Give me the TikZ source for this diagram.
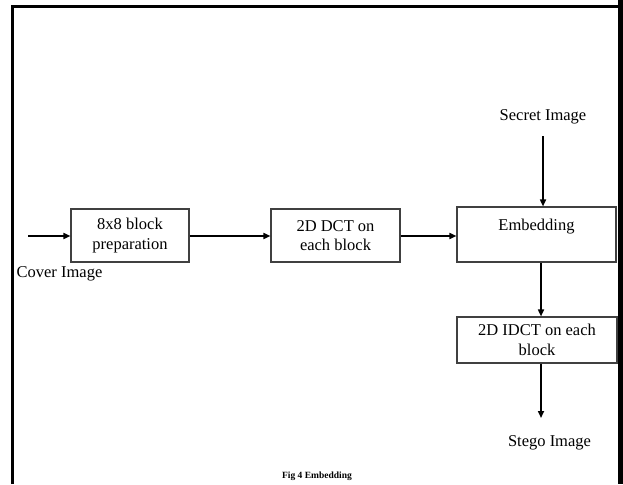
\documentclass[tikz,border=0pt]{standalone}
\usepackage{fontspec}
\setmainfont{Liberation Serif}
\usetikzlibrary{arrows.meta, positioning}

\tikzset{
  blockbox/.style={draw=black!75, line width=1.1pt, align=center, inner sep=0pt,
                   font=\fontsize{16.5}{19.5}\selectfont},
  flowarrow/.style={-{Triangle[length=7pt,width=6pt]}, line width=1.6pt},
  iolabel/.style={font=\fontsize{16.5}{19.5}\selectfont, inner sep=0pt}
}

\begin{document}
\begin{tikzpicture}[x=1pt, y=-1pt]
      \useasboundingbox (0,0) rectangle (623,484);
      % Frame round the figure
      \draw[line width=3pt] (12,484) -- (12,7) -- (618,7);
      \fill (618,0) rectangle (623,484);
      % Processing blocks
      \node[blockbox, minimum width=118pt, minimum height=53pt] (prep) at (130,235.5) {8x8 block\\preparation};
      \node[blockbox, minimum width=129pt, minimum height=53pt] (dct) at (335.5,235.5) {2D DCT on\\each block};
      \node[blockbox, minimum width=159pt, minimum height=55pt] (embed) at (536.5,234.5) {Embedding\\~};
      \node[blockbox, minimum width=160pt, minimum height=46pt] (idct) at (537,340) {2D IDCT on each\\block};
      % Inputs and output
      \node[iolabel] (cover) at (59.5,274) {Cover Image};
      \node[iolabel] (secret) at (543,117) {Secret Image};
      \node[iolabel] (stego) at (549.5,443) {Stego Image};
      \coordinate (coverin) at (28,236);
      \coordinate (stegoout) at (541,418);
      % Arrows between blocks
      \draw[flowarrow] (coverin) -- (prep.west |- coverin);
      \draw[flowarrow] (prep.east |- coverin) -- (dct.west |- coverin);
      \draw[flowarrow] (dct.east |- coverin) -- (embed.west |- coverin);
      \draw[flowarrow] ([yshift=-12pt]secret.south) -- (secret.south |- embed.north);
      \draw[flowarrow] (stegoout |- embed.south) -- (stegoout |- idct.north);
      \draw[flowarrow] (stegoout |- idct.south) -- (stegoout);
      % Caption
      \node[font=\fontsize{9.5}{11}\selectfont\bfseries, inner sep=0pt] (caption) at (317,476) {Fig 4 Embedding};
\end{tikzpicture}
\end{document}
